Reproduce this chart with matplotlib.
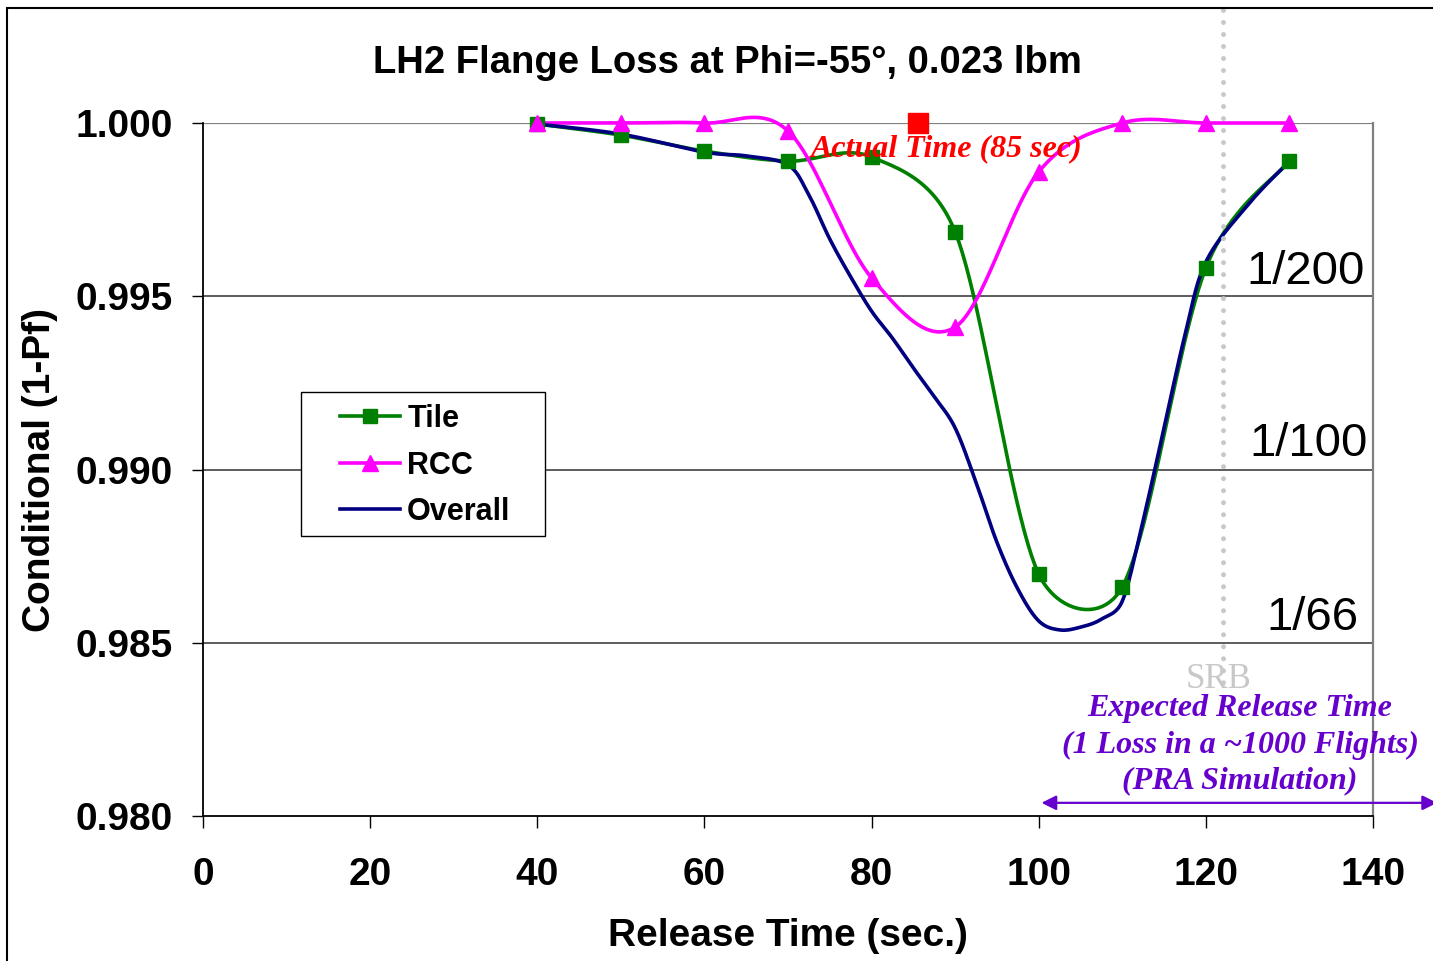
import matplotlib
matplotlib.use("Agg")
import matplotlib.pyplot as plt
import numpy as np
from matplotlib.lines import Line2D
from matplotlib.patches import Rectangle, FancyArrowPatch

# Data
t_marks = [40, 50, 60, 70, 80, 90, 100, 110, 120, 130]
tile = [0.99997, 0.99965, 0.99919, 0.99890, 0.99902, 0.99686, 0.98698, 0.98661, 0.99582, 0.99890]
rcc = [1.0, 1.0, 1.0, 0.99977, 0.99553, 0.99411, 0.99859, 1.0, 1.0, 1.0]

t_overall = [40, 50, 60, 65, 70, 72.5, 75, 77.5, 80, 82.5, 85, 87.5, 90, 92.5, 95, 97.5,
             100, 102.5, 105, 107.5, 110, 112.5, 115, 117.5, 120, 125, 130]
overall = [0.99997, 0.99968, 0.99916, 0.99905, 0.99879, 0.99792, 0.99665, 0.99556, 0.99457,
           0.99379, 0.99293, 0.99210, 0.99120, 0.98963, 0.98790, 0.98655, 0.98563, 0.98537,
           0.98545, 0.98568, 0.98620, 0.98854, 0.99120, 0.99388, 0.99599, 0.99763, 0.99890]

actual_time = 85.6
srb_time = 122
risk_labels = ["1/200", "1/100", "1/66"]
risk_levels = [0.99570, 0.99075, 0.98570]

SANS = "Liberation Sans"
SERIF = "Liberation Serif"
PURPLE = "#6600cc"

XLIM = (0, 140)
YLIM = (0.980, 1.000)


def smooth(ax, x, y, n=24):
    # Excel-like bezier smoothing in pixel-proportional space:
    # control offset = (next - prev) / 6, capped at half the segment length
    bb = ax.get_position()
    fw, fh = ax.figure.get_size_inches()
    sx = bb.width * fw / (XLIM[1] - XLIM[0])
    sy = bb.height * fh / (YLIM[1] - YLIM[0])
    P = np.column_stack([np.asarray(x, float) * sx, np.asarray(y, float) * sy])
    m = len(P)
    out = [P[0]]
    s = np.linspace(0, 1, n)[1:, None]
    for i in range(m - 1):
        p0, p3 = P[i], P[i + 1]
        half = np.linalg.norm(p3 - p0) / 2
        d0 = (P[min(i + 1, m - 1)] - P[max(i - 1, 0)]) / 6
        d1 = (P[min(i + 2, m - 1)] - P[i]) / 6
        d0 *= min(1, half / np.linalg.norm(d0))
        d1 *= min(1, half / np.linalg.norm(d1))
        c1 = p0 + d0
        c2 = p3 - d1
        pts = ((1 - s) ** 3) * p0 + 3 * ((1 - s) ** 2) * s * c1 + 3 * (1 - s) * s ** 2 * c2 + s ** 3 * p3
        out.extend(pts)
    out = np.array(out)
    return out[:, 0] / sx, out[:, 1] / sy


fig = plt.figure(figsize=(14.33, 9.61), dpi=100)
ax = fig.add_axes([203 / 1433, 1 - 816 / 961, 1170 / 1433, 693 / 961])
ax.set_xlim(*XLIM)
ax.set_ylim(*YLIM)

# Smoothed lines
series = [
    (t_marks, tile, "#008000"),
    (t_marks, rcc, "#ff00ff"),
    (t_overall, overall, "#000080"),
]
for xs, ys, c in series:
    sx_, sy_ = smooth(ax, xs, ys)
    ax.plot(sx_, sy_, color=c, lw=2.6, zorder=3, clip_on=False, solid_joinstyle="round")

# Markers
ax.plot(t_marks, tile, ls="none", marker="s", ms=10.5, color="#008000", zorder=4, clip_on=False)
ax.plot(t_marks, rcc, ls="none", marker="^", ms=11, color="#ff00ff", zorder=4, clip_on=False)
ax.plot([actual_time], [1.0], ls="none", marker="s", ms=14.5, color="#ff0000", zorder=4, clip_on=False)

# Axes styling
ax.set_xticks(np.arange(0, 141, 20))
ax.set_yticks([0.980, 0.985, 0.990, 0.995, 1.000])
ax.yaxis.set_major_formatter(matplotlib.ticker.FormatStrFormatter("%.3f"))
ax.tick_params(axis="x", direction="out", length=8.6, width=1, pad=21)
ax.tick_params(axis="y", direction="out", length=8, width=1, pad=14)
for lab in ax.get_xticklabels() + ax.get_yticklabels():
    lab.set_fontfamily(SANS)
    lab.set_fontweight("bold")
    lab.set_fontsize(28)

for yv in [0.985, 0.990, 0.995]:
    ax.axhline(yv, color="#303030", lw=1.1, zorder=1)
ax.axhline(1.0, color="#808080", lw=1.6, zorder=1)
ax.spines["top"].set_visible(False)
ax.spines["right"].set_color("#808080")
ax.spines["right"].set_linewidth(1.6)
ax.spines["left"].set_linewidth(1.3)
ax.spines["bottom"].set_linewidth(1.3)

ax.set_xlabel("Release Time (sec.)", fontfamily=SANS, fontweight="bold", fontsize=28)
ax.set_ylabel("Conditional (1-Pf)", fontfamily=SANS, fontweight="bold", fontsize=28)
ax.xaxis.label.set_va("center")
ax.yaxis.label.set_va("center")
ax.xaxis.set_label_coords(0.5, -0.1732)
ax.yaxis.set_label_coords(-0.139, 0.5)

fig.text(727.5 / 1433, 1 - 63 / 961, "LH2 Flange Loss at Phi=-55°, 0.023 lbm",
         fontfamily=SANS, fontweight="bold", fontsize=27.5, ha="center", va="center")

# Annotations
ax.text(89.0, 0.99926, "Actual Time (85 sec)", color="#ff0000", fontfamily=SERIF,
        fontweight="bold", fontstyle="italic", fontsize=23, ha="center", va="center", zorder=5)

for lab, yv, xr in zip(risk_labels, risk_levels, [139.0, 139.4, 138.3]):
    ax.text(xr, yv, lab, fontfamily=SANS, fontsize=34, ha="right", va="center", zorder=5)

ax.plot([srb_time, srb_time], [1.00326, 0.98364], color="#c8c8c8", lw=3.6,
        dashes=(0.001, 2.4), dash_capstyle="round", zorder=6, clip_on=False)
ax.text(121.5, 0.98395, "SRB", color="#c8c8c8", fontfamily=SERIF, fontsize=25,
        ha="center", va="center", zorder=5)

ax.text(124.1, 0.98205, "Expected Release Time\n(1 Loss in a ~1000 Flights)\n(PRA Simulation)",
        color=PURPLE, fontfamily=SERIF, fontweight="bold", fontstyle="italic", fontsize=23,
        ha="center", va="center", multialignment="center", linespacing=1.32, zorder=5)

arrow = FancyArrowPatch((100, 0.98038), (148, 0.98038), arrowstyle="<|-|>", mutation_scale=22,
                        color=PURPLE, lw=1.6, zorder=5, clip_on=False)
ax.add_patch(arrow)

# Legend with a manual frame
ax.add_patch(Rectangle(((301 - 203) / 1170, (816 - 536) / 693), 244 / 1170, 144 / 693,
                       transform=ax.transAxes, facecolor="white", edgecolor="black",
                       lw=1.0, zorder=6))
handles = [
    Line2D([], [], color="#008000", lw=2.6, marker="s", ms=10.5),
    Line2D([], [], color="#ff00ff", lw=2.6, marker="^", ms=11),
    Line2D([], [], color="#000080", lw=2.6),
]
leg = ax.legend(handles, ["Tile", "RCC", "Overall"], loc="upper left",
                bbox_to_anchor=((340 - 203) / 1170, (816 - 404) / 693),
                frameon=False, borderpad=0, borderaxespad=0, handlelength=1.95,
                handletextpad=0.25, labelspacing=0.54,
                prop={"family": SANS, "weight": "bold", "size": 22})
leg.set_zorder(7)

# Outer chart border
fig.add_artist(Rectangle((7 / 1433, -0.05), 1.2, 1 - 8 / 961 + 0.05, transform=fig.transFigure,
                         fill=False, edgecolor="black", lw=1.5))

fig.savefig("out.png", dpi=100)
